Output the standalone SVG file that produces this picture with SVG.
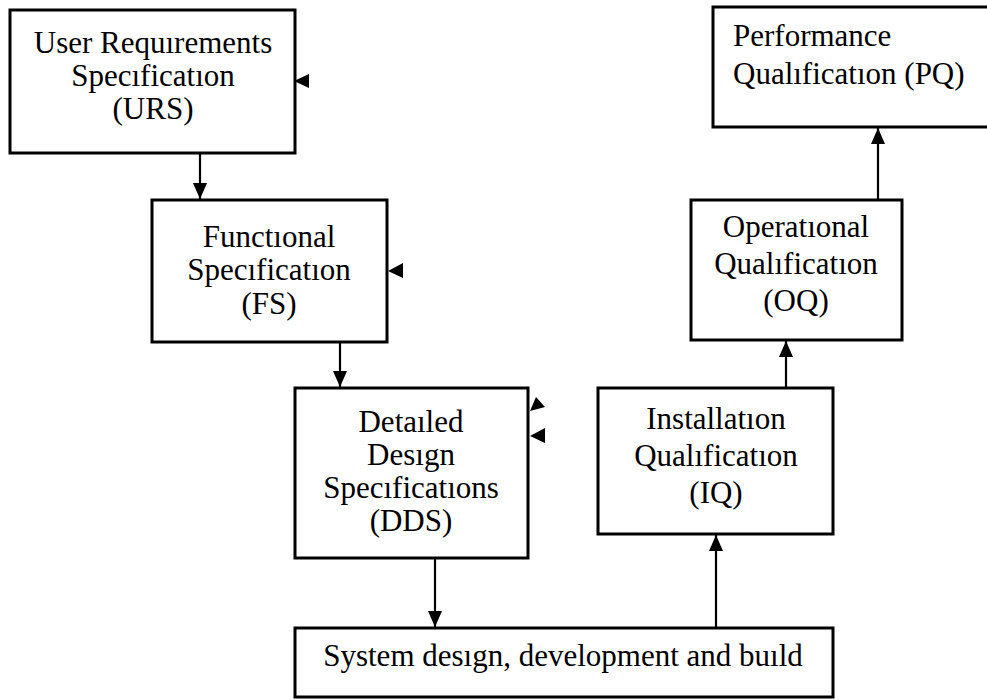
<svg xmlns="http://www.w3.org/2000/svg" width="987" height="700" viewBox="0 0 987 700">
<style>
.box{fill:#fff;stroke:#000;stroke-width:3}
.t{font-family:"Liberation Serif","Times New Roman",serif;font-size:31px;fill:#000;text-anchor:middle}
.ts{font-family:"Liberation Serif","Times New Roman",serif;font-size:31px;fill:#000;text-anchor:start}
.c{stroke:#000;stroke-width:2.2;fill:none}
.h{fill:#000;stroke:none}
</style>
<defs>
<marker id="arr" viewBox="0 0 16 14" refX="16" refY="7" markerWidth="16" markerHeight="14" markerUnits="userSpaceOnUse" orient="auto">
<path d="M0,0 L16,7 L0,14 Z" fill="#000"/>
</marker>
</defs>
<rect x="0" y="0" width="987" height="700" fill="#fff"/>
<g id="connectors">
<line class="c" x1="200" y1="153" x2="200" y2="199" marker-end="url(#arr)"/>
<line class="c" x1="340" y1="342" x2="340" y2="387" marker-end="url(#arr)"/>
<line class="c" x1="435" y1="558" x2="435" y2="627" marker-end="url(#arr)"/>
<line class="c" x1="716" y1="628" x2="716" y2="535" marker-end="url(#arr)"/>
<line class="c" x1="786" y1="388" x2="786" y2="341" marker-end="url(#arr)"/>
<line class="c" x1="878" y1="200" x2="878" y2="128" marker-end="url(#arr)"/>
<polygon class="h" points="294,81 309,74 309,88"/>
<polygon class="h" points="388,271 403,263 403,278"/>
<polygon class="h" points="536,397 545,407 530,411"/>
<polygon class="h" points="530,436 545,428 545,443"/>
</g>
<g id="urs">
<rect class="box" x="10" y="10" width="285" height="143"/>
<text class="t"><tspan x="153" y="53">User Requırements</tspan><tspan x="153" y="86">Specıficatıon</tspan><tspan x="153" y="119">(URS)</tspan></text>
</g>
<g id="fs">
<rect class="box" x="152" y="200" width="235" height="142"/>
<text class="t"><tspan x="269" y="247">Functıonal</tspan><tspan x="269" y="280">Specıficatıon</tspan><tspan x="269" y="314">(FS)</tspan></text>
</g>
<g id="dds">
<rect class="box" x="295" y="388" width="233" height="170"/>
<text class="t"><tspan x="411" y="432">Detaıled</tspan><tspan x="411" y="465">Desıgn</tspan><tspan x="411" y="498">Specıficatıons</tspan><tspan x="411" y="531">(DDS)</tspan></text>
</g>
<g id="system">
<rect class="box" x="295" y="628" width="538" height="69"/>
<text class="t" x="563" y="666">System desıgn, development and buıld</text>
</g>
<g id="iq">
<rect class="box" x="598" y="388" width="235" height="146"/>
<text class="t"><tspan x="716" y="429">Installatıon</tspan><tspan x="716" y="466">Qualıficatıon</tspan><tspan x="716" y="503">(IQ)</tspan></text>
</g>
<g id="oq">
<rect class="box" x="691" y="200" width="211" height="140"/>
<text class="t"><tspan x="796" y="237">Operatıonal</tspan><tspan x="796" y="274">Qualıficatıon</tspan><tspan x="796" y="311">(OQ)</tspan></text>
</g>
<g id="pq">
<rect class="box" x="713" y="7" width="290" height="120"/>
<text class="ts"><tspan x="733" y="46">Performance</tspan><tspan x="733" y="84">Qualıficatıon (PQ)</tspan></text>
</g>
</svg>
